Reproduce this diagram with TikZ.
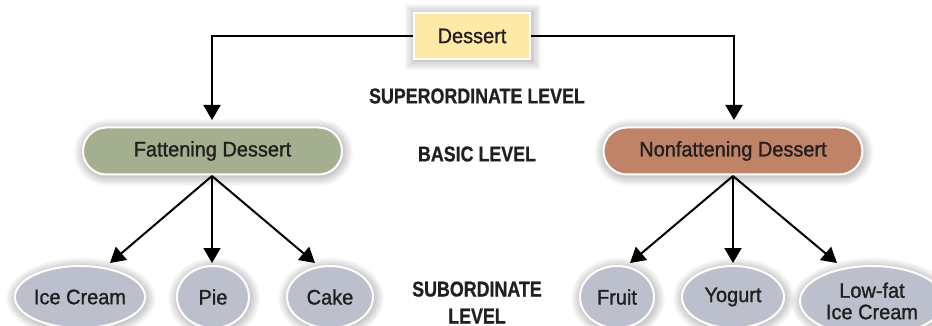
\documentclass[tikz,border=0pt]{standalone}
\usepackage{fontspec}
\setmainfont{Liberation Sans}
\newfontfamily\lvlfont[FakeStretch=0.83,FakeBold=0.7]{Liberation Sans}
\newfontfamily\nodefont[FakeStretch=0.95,FakeBold=1.2]{Liberation Sans}
\usetikzlibrary{arrows.meta,shapes.geometric,shapes.misc}
\definecolor{txt}{HTML}{231F20}
\definecolor{topfill}{HTML}{FFE9A6}
\definecolor{fatfill}{HTML}{A3AF8E}
\definecolor{nonfill}{HTML}{BF8468}
\definecolor{leaffill}{HTML}{BCC0CC}
\newcommand\myhalo[4]{%
  \foreach \k in {1,...,9}{%
    \node[#1,draw=none,fill=black,fill opacity=0.022,inner sep=0pt,
      minimum width={#2pt+2.2*\k pt},minimum height={#3pt+2.2*\k pt}] at #4 {};}}
\begin{document}
\begin{tikzpicture}[x=1pt,y=-1pt,
  topbox/.style={draw=white,line width=1.5pt,fill=topfill,minimum width=116pt,minimum height=46pt,inner sep=0pt,font=\nodefont\fontsize{21}{22}\selectfont,text=txt},
  basicbox/.style={rounded rectangle,draw=white,line width=2pt,minimum width=259pt,minimum height=47pt,inner sep=0pt,font=\nodefont\fontsize{21}{22}\selectfont,text=txt},
  leaf/.style={ellipse,draw=white,line width=2pt,fill=leaffill,inner sep=0pt,minimum height=62pt,font=\nodefont\fontsize{21}{21}\selectfont,text=txt,align=center},
  lvl/.style={font=\lvlfont\bfseries\fontsize{21.5}{27}\selectfont,text=txt,align=center},
  conn/.style={line width=2pt,draw=black,-{Triangle[width=17pt,length=15pt]}}
]
\useasboundingbox (0,0) rectangle (932,326);
\fill[white] (0,0) rectangle (932,326);

% soft halos
\myhalo{rectangle}{116}{46}{(473,37)}
\myhalo{rounded rectangle}{259}{47}{(213.5,152.5)}
\myhalo{rounded rectangle}{259}{47}{(734,152.5)}
\myhalo{ellipse}{130}{62}{(81,298.5)}
\myhalo{ellipse}{72}{62}{(214,298.5)}
\myhalo{ellipse}{86}{62}{(331,298.5)}
\myhalo{ellipse}{74}{62}{(618,298.5)}
\myhalo{ellipse}{102}{62}{(734,298.5)}
\myhalo{ellipse}{144}{70}{(873,302.5)}

\node[topbox] (dessert) at (472,36) {Dessert};
\node[basicbox,fill=fatfill] (fat) at (212.5,151) {Fattening Dessert};
\node[basicbox,fill=nonfill] (non) at (733,151) {Nonfattening Dessert};

\node[leaf,minimum width=130pt] (ice) at (80,297) {Ice Cream};
\node[leaf,minimum width=72pt] (pie) at (213,297) {Pie};
\node[leaf,minimum width=86pt] (cake) at (330,297) {Cake};
\node[leaf,minimum width=74pt] (fruit) at (617,297) {Fruit};
\node[leaf,minimum width=102pt] (yog) at (733,297) {Yogurt};
\node[leaf,minimum width=144pt,minimum height=70pt,font=\nodefont\fontsize{21}{21.5}\selectfont] (low) at (872,301) {Low-fat\\Ice Cream};

\node[lvl] (sup) at (477,96) {SUPERORDINATE LEVEL};
\node[lvl] (bas) at (477,154) {BASIC LEVEL};
\node[lvl] (sub) at (477,302.5) {SUBORDINATE\\LEVEL};

\coordinate (fattop) at (212,120);
\coordinate (nontop) at (734,120);
\draw[conn] (dessert.west) -| (fattop);
\draw[conn] (dessert.east) -| (nontop);

\coordinate (fatb) at (212,176);
\coordinate (nonb) at (733,176);
\coordinate (t1) at (110,263);
\coordinate (t2) at (212,263);
\coordinate (t3) at (315,263);
\coordinate (t4) at (630,263);
\coordinate (t5) at (733,263);
\coordinate (t6) at (837,263);
\draw[conn] (fatb) -- (t1);
\draw[conn] (fatb) -- (t2);
\draw[conn] (fatb) -- (t3);
\draw[conn] (nonb) -- (t4);
\draw[conn] (nonb) -- (t5);
\draw[conn] (nonb) -- (t6);
\end{tikzpicture}
\end{document}
